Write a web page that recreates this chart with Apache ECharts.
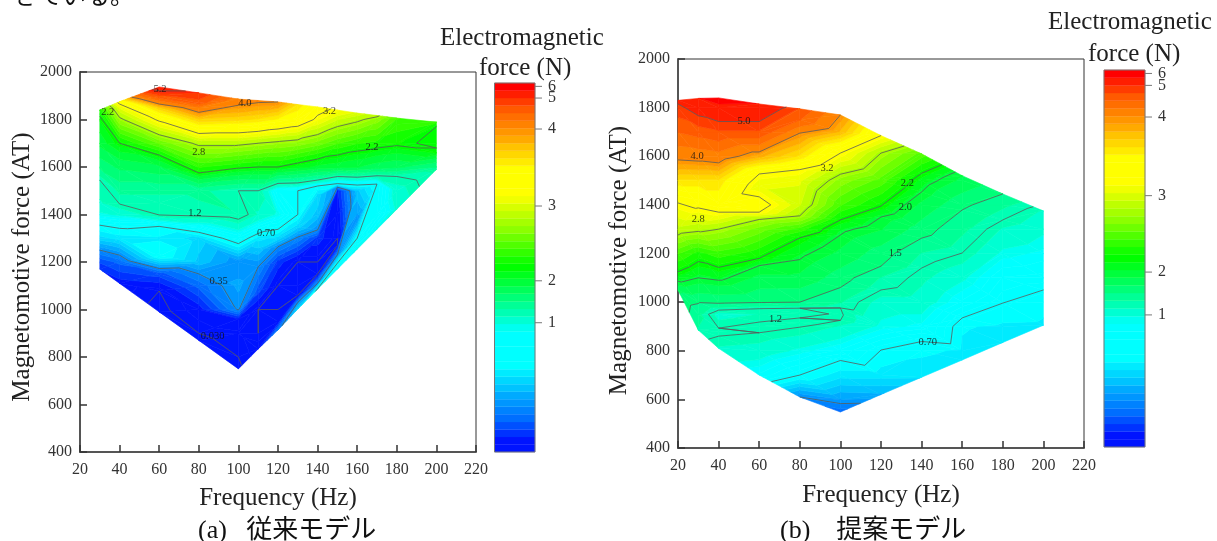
<!DOCTYPE html>
<html><head><meta charset="utf-8">
<style>html,body{margin:0;padding:0;background:#fff}#c{width:1217px;height:541px}</style>
<script src="https://cdn.jsdelivr.net/npm/echarts@6/dist/echarts.min.js"></script>
</head><body><div id="c"></div>
<script>
// Force value at each colour-bar band edge (bottom to top)
const barLevels=[0,.0575,.115,.1725,.23,.2875,.345,.4025,.46,.5175,.575,.6325,.69,.7475,.805,.8625,.92,.977,1.115,1.31,1.5,1.7,1.89,2.04,2.14,2.24,2.34,2.44,2.54,2.64,2.74,2.84,2.94,3.03,3.13,3.23,3.33,3.43,3.52,3.62,3.72,3.82,3.92,4.01,4.25,4.49,4.74,5.0,5.63,6.3];
const barColors=['#0014ff','#0014ff','#0032ff','#0050ff','#006eff','#0082ff','#0096ff','#00aaff','#00c3ff','#00d7ff','#00ebff','#00ffff','#00ffff','#00ffff','#00ffff','#00ffff','#00fff0','#00ffd2','#00ffb4','#00ff96','#00ff78','#00ff5a','#00ff3c','#00ff1e','#00ff00','#14ff00','#32ff00','#50ff00','#6eff00','#8cff00','#a5ff00','#beff00','#d7ff00','#f0ff00','#ffff00','#ffff00','#ffff00','#ffff00','#ffeb00','#ffd700','#ffc300','#ffaa00','#ff9600','#ff8200','#ff6e00','#ff5a00','#ff3c00','#ff1e00','#ff0000'];
const barTicks=[5,1,2,3,4,6];

const freqA=[30,40,60,80,100,110,120,130,140,150,160,170,180,200];
const mmfA=[
[1170,1200,1250,1300,1355,1400,1450,1545,1600,1700,1800,1840],
[1110,1200,1300,1350,1400,1444,1500,1600,1700,1800,1850,1875],
[990,1078,1150,1225,1300,1350,1398,1450,1500,1600,1700,1800,1850,1900,1937],
[870,900,1000,1100,1150,1200,1300,1350,1400,1500,1575,1600,1700,1800,1850,1869,1912],
[750,800,900,960,1000,1100,1200,1300,1400,1500,1600,1700,1800,1860,1886],
[834,900,1000,1080,1180,1250,1300,1400,1500,1600,1700,1800,1880],
[914,950,1000,1100,1200,1264,1300,1400,1500,1600,1700,1800,1874],
[1002,1030,1060,1100,1200,1305,1350,1400,1500,1533,1600,1700,1800,1863],
[1086,1110,1150,1200,1300,1335,1400,1480,1520,1545,1600,1700,1800,1853],
[1170,1195,1230,1270,1300,1400,1500,1515,1530,1560,1600,1700,1800,1840],
[1254,1300,1377,1400,1500,1530,1560,1600,1700,1800,1827],
[1338,1400,1528,1560,1600,1700,1800,1817],
[1422,1500,1560,1600,1700,1780,1806],
[1590,1600,1660,1680,1700,1770,1789]];
const forceA=[
[.12,.18,.35,.55,.7,.95,1.1,1.2,1.55,1.95,2.15,2.3],
[.08,.25,.6,.72,1.0,1.2,1.35,1.75,2.2,2.75,3.05,3.3],
[.01,.03,.2,.7,.62,.7,1.2,1.22,1.35,1.85,2.55,3.25,3.7,4.7,5.6],
[.02,.03,.08,.25,.35,.5,.55,.85,1.25,1.35,2.2,2.35,2.85,3.7,4.2,4.6,5.0],
[.02,.03,.05,.1,.36,.42,.36,.8,1.3,1.2,2.25,2.85,3.65,4.0,4.1],
[.08,.03,.03,.2,.35,.5,.6,1.1,1.2,2.2,2.8,3.6,4.05],
[.3,.05,.03,.03,.15,.35,.55,.95,.75,2.2,2.75,3.5,4.0],
[.55,.35,.03,.03,.03,.35,.55,.7,.7,1.2,2.1,2.7,3.4,3.6],
[.72,.35,.03,.03,.15,.35,.5,.55,.7,1.2,2.0,2.6,3.15,3.3],
[.8,.7,.35,.03,.03,.05,.1,.35,.7,1.2,1.95,2.45,2.95,3.15],
[.95,.7,.36,.4,.5,.75,1.25,1.9,2.35,2.85,3.0],
[.95,.75,.7,1.15,1.8,2.3,2.7,2.85],
[1.0,1.05,1.2,1.75,2.25,2.4,2.45],
[1.35,1.5,2.15,2.2,2.15,2.2,2.35]];
const contourA=[.03,.35,.7,1.2,2.2,2.8,3.2,4.0,5.2];
const labelA=[[60.4,1928,'5.2'],[103.3,1869,'4.0'],[146,1836,'3.2'],[34,1832,'2.2'],[80,1663,'2.8'],[167.5,1684,'2.2'],[78,1406,'1.2'],[114,1322,'0.70'],[90,1120,'0.35'],[87,889,'0.030']];

const freqB=[20,30,40,60,80,100,120,140,160,180,200];
const mmfB=[
[1050,1100,1125,1200,1276,1300,1408,1500,1585,1700,1800,1830],
[885,950,1000,1100,1200,1300,1400,1500,1600,1700,1800,1838],
[810,860,878,893,950,967,1000,1100,1200,1300,1370,1400,1500,1600,1700,1800,1840],
[700,800,874,900,918,950,973,1000,1100,1150,1180,1300,1340,1370,1400,1433,1480,1527,1600,1700,1800,1815],
[610,700,800,897,915,935,955,975,1000,1100,1175,1200,1264,1300,1355,1400,1500,1545,1600,1695,1750,1795],
[548,600,700,760,800,900,925,950,976,1000,1060,1100,1200,1276,1300,1338,1400,1500,1526,1613,1700,1770],
[620,700,803,900,1000,1050,1100,1148,1200,1300,1350,1395,1500,1613,1685],
[691,800,838,900,1000,1100,1140,1200,1263,1300,1400,1453,1500,1530,1610],
[762,800,900,935,1000,1100,1202,1300,1379,1400,1500,1520],
[834,900,996,1100,1200,1300,1338,1400,1445],
[905,1000,1050,1100,1200,1300,1375]];
const forceB=[
[1.75,2.1,2.2,2.45,2.8,2.9,3.2,3.6,4.0,4.5,4.9,5.1],
[1.3,1.35,1.52,2.0,2.3,2.85,3.25,3.6,4.1,4.6,5.2,5.6],
[1.1,1.2,1.28,1.2,1.05,1.2,1.55,2.05,2.4,2.8,3.2,3.4,3.6,4.15,4.7,5.4,6.0],
[.85,1.05,1.2,1.28,1.2,1.12,1.2,1.52,1.85,2.0,2.2,2.6,2.8,3.2,3.3,3.2,3.05,3.2,3.85,4.7,5.4,5.6],
[.35,.7,.95,1.2,1.28,1.2,1.15,1.2,1.5,1.85,2.0,2.05,2.2,2.4,2.8,2.95,3.05,3.2,3.6,4.0,4.5,4.7],
[.25,.4,.6,.7,.85,1.1,1.2,1.22,1.2,1.32,1.5,1.6,1.85,2.0,2.05,2.2,2.45,2.7,2.8,3.2,3.8,4.0],
[.45,.6,.7,.95,1.05,1.2,1.3,1.5,1.6,1.9,2.0,2.2,2.5,2.8,3.2],
[.58,.65,.7,.9,1.05,1.15,1.2,1.3,1.5,1.6,1.85,2.0,2.1,2.2,2.5],
[.6,.62,.64,.7,.85,1.0,1.2,1.35,1.5,1.55,1.85,1.9],
[.6,.62,.7,.8,.95,1.1,1.2,1.35,1.5],
[.62,.66,.7,.78,.9,1.0,1.1]];
const contourB=[.35,.7,1.2,1.5,2.0,2.2,2.8,3.2,4.0,5.0];
const labelB=[[52.5,1745,'5.0'],[29.4,1601,'4.0'],[93.4,1552,'3.2'],[133,1490,'2.2'],[132,1391,'2.0'],[127,1202,'1.5'],[30,1342,'2.8'],[68,930,'1.2'],[143,836,'0.70']];

const serif='"Liberation Serif","Noto Sans CJK JP",serif';

// Join neighbouring frequency columns into triangles.
// followForce: new edges follow equal force (diagonal features); otherwise they follow equal MMF.
function triangles(freq,mmf,force,followForce){
  const out=[];
  for(let c=0;c<freq.length-1;c++){
    let i=0,j=0;const a=mmf[c],b=mmf[c+1],fa=force[c],fb=force[c+1];
    const cost=(p,q)=>Math.abs(fa[p]-fb[q])+.0012*Math.abs(a[p]-b[q]);
    while(i<a.length-1||j<b.length-1){
      const adv=j>=b.length-1||(i<a.length-1&&(followForce?cost(i+1,j)<=cost(i,j+1):a[i+1]<=b[j+1]));
      if(adv){out.push([freq[c],a[i],fa[i],freq[c],a[i+1],fa[i+1],freq[c+1],b[j],fb[j]]);i++;}
      else{out.push([freq[c],a[i],fa[i],freq[c+1],b[j],fb[j],freq[c+1],b[j+1],fb[j+1]]);j++;}
    }
  }
  return out;
}
function clipV(poly,lim,keepAbove){
  const r=[];
  for(let k=0;k<poly.length;k++){
    const p=poly[k],q=poly[(k+1)%poly.length];
    const pin=keepAbove?p[2]>=lim:p[2]<=lim,qin=keepAbove?q[2]>=lim:q[2]<=lim;
    if(pin)r.push(p);
    if(pin!==qin){const t=(lim-p[2])/(q[2]-p[2]);r.push([p[0]+t*(q[0]-p[0]),p[1]+t*(q[1]-p[1]),lim]);}
  }
  return r;
}
function fillItem(params,api){
  const v=[0,3,6].map(k=>[api.value(k),api.value(k+1),api.value(k+2)]);
  const lo=Math.min(v[0][2],v[1][2],v[2][2]),hi=Math.max(v[0][2],v[1][2],v[2][2]);
  const children=[];
  for(let b=0;b<barColors.length;b++){
    if(barLevels[b+1]<lo||barLevels[b]>hi)continue;
    let p=clipV(v,barLevels[b],true);
    if(p.length>2)p=clipV(p,barLevels[b+1],false);
    if(p.length>2)children.push({type:'polygon',shape:{points:p.map(q=>api.coord([q[0],q[1]]))},style:{fill:barColors[b],stroke:barColors[b],lineWidth:.6}});
  }
  return {type:'group',children};
}
function lineItem(levels){
  return function(params,api){
    const v=[0,3,6].map(k=>[api.value(k),api.value(k+1),api.value(k+2)]);
    const children=[];
    levels.forEach(l0=>{
      const l=l0+1e-5,pts=[];
      for(let k=0;k<3;k++){
        const p=v[k],q=v[(k+1)%3];
        if((p[2]-l)*(q[2]-l)<0){const t=(l-p[2])/(q[2]-p[2]);pts.push(api.coord([p[0]+t*(q[0]-p[0]),p[1]+t*(q[1]-p[1])]));}
      }
      if(pts.length===2)children.push({type:'line',shape:{x1:pts[0][0],y1:pts[0][1],x2:pts[1][0],y2:pts[1][1]},style:{stroke:'#5a5a5a',lineWidth:.8}});
    });
    return {type:'group',children};
  };
}
function barPos(val){
  for(let i=0;i<barLevels.length-1;i++)
    if(val>=barLevels[i]&&val<=barLevels[i+1])return i+(val-barLevels[i])/(barLevels[i+1]-barLevels[i]);
  return 0;
}
const tickPos=barTicks.map(barPos);

const grids=[
 {left:80,top:72,width:396,height:380,show:true,borderColor:'#333',borderWidth:1},
 {left:678,top:59,width:406,height:389,show:true,borderColor:'#333',borderWidth:1},
 {left:494.5,top:83,width:40.5,height:369},
 {left:1104,top:70,width:41,height:377}
];
function mainX(g,gap){return {gridIndex:g,type:'value',min:20,max:220,interval:20,name:'Frequency (Hz)',nameLocation:'middle',nameGap:gap,
  nameTextStyle:{fontFamily:serif,fontSize:25,color:'#222'},axisLine:{lineStyle:{color:'#555',width:2}},axisTick:{inside:true,length:7,lineStyle:{color:'#333',width:1.5}},
  axisLabel:{fontFamily:serif,fontSize:16,color:'#333',margin:10,hideOverlap:false,showMinLabel:true,showMaxLabel:true},splitLine:{show:false}};}
function mainY(g,gap,pad){return {gridIndex:g,type:'value',min:400,max:2000,interval:200,name:'Magnetomotive force (AT)',nameLocation:'middle',nameGap:gap,
  nameTextStyle:{fontFamily:serif,fontSize:25,color:'#222',padding:pad},axisLine:{lineStyle:{color:'#555',width:2}},axisTick:{inside:true,length:7,lineStyle:{color:'#333',width:1.5}},
  axisLabel:{fontFamily:serif,fontSize:16,color:'#333',margin:8,hideOverlap:false,showMinLabel:true,showMaxLabel:true,formatter:v=>String(v)},splitLine:{show:false}};}
function barX(g){return {gridIndex:g,type:'value',min:0,max:1,show:false};}
function barY(g){return {gridIndex:g,type:'value',min:0,max:barColors.length,position:'right',
  axisLine:{show:false},splitLine:{show:false},
  axisTick:{show:false},
  axisLabel:{show:true,fontFamily:serif,fontSize:16,color:'#333',margin:13,customValues:tickPos,hideOverlap:false,showMinLabel:true,showMaxLabel:true,
    formatter:v=>{let b=0,d=1e9;tickPos.forEach((p,i)=>{if(Math.abs(p-v)<d){d=Math.abs(p-v);b=i;}});return String(barTicks[b]);}}};}

function contourSeries(freq,mmf,force,levels,labels,ax,followForce){
  const tri=triangles(freq,mmf,force,followForce);
  return [
   {type:'custom',xAxisIndex:ax,yAxisIndex:ax,coordinateSystem:'cartesian2d',data:tri,renderItem:fillItem,encode:{x:0,y:1},silent:true,z:2,clip:false},
   {type:'custom',xAxisIndex:ax,yAxisIndex:ax,coordinateSystem:'cartesian2d',data:tri,renderItem:lineItem(levels),encode:{x:0,y:1},silent:true,z:3,clip:false},
   {type:'scatter',xAxisIndex:ax,yAxisIndex:ax,data:labels,symbolSize:0,silent:true,z:4,
    label:{show:true,position:'inside',formatter:p=>p.value[2],fontFamily:serif,fontSize:10.5,color:'#111'}}
  ];
}
function barSeries(ax){
  return [
   {type:'custom',xAxisIndex:ax,yAxisIndex:ax,coordinateSystem:'cartesian2d',data:barColors.map((c,i)=>[0,i,1,i+1]),encode:{x:[0,2],y:[1,3]},silent:true,z:2,
    renderItem:(p,api)=>{const a=api.coord([api.value(0),api.value(1)]),b=api.coord([api.value(2),api.value(3)]);
      return {type:'rect',shape:{x:a[0],y:b[1],width:b[0]-a[0],height:a[1]-b[1]},style:{fill:barColors[p.dataIndex],stroke:barColors[p.dataIndex],lineWidth:.3}};}},
   {type:'custom',xAxisIndex:ax,yAxisIndex:ax,coordinateSystem:'cartesian2d',data:[[0,0,1,barColors.length]],encode:{x:[0,2],y:[1,3]},silent:true,z:3,clip:false,
    renderItem:(p,api)=>{const a=api.coord([api.value(0),api.value(1)]),b=api.coord([api.value(2),api.value(3)]);
      const ticks=tickPos.map(t=>{const q=api.coord([1,t]);return {type:'line',shape:{x1:q[0],y1:q[1],x2:q[0]+7,y2:q[1]},style:{stroke:'#777',lineWidth:1}};});
      return {type:'group',children:[{type:'rect',shape:{x:a[0],y:b[1],width:b[0]-a[0],height:a[1]-b[1]},style:{fill:'none',stroke:'#777',lineWidth:1}},...ticks]};}}
  ];
}
function txt(text,left,top,size,color){return {text,left,top,textStyle:{fontFamily:serif,fontSize:size,fontWeight:'normal',color:color||'#222'}};}

const chart=echarts.init(document.getElementById('c'),null,{renderer:'canvas'});
chart.setOption({
  animation:false,backgroundColor:'#fff',
  title:[
    txt('Electromagnetic',435,21,25),txt('force (N)',474,51,25),
    txt('Electromagnetic',1043,5,25),txt('force (N)',1083,37,25),
    txt('(a)   従来モデル',193,513,26,'#111'),txt('(b)    提案モデル',775,513,26,'#111'),
    txt('きている。',9,-19,24,'#111')
  ],
  grid:grids,
  xAxis:[mainX(0,34),mainX(1,35),barX(2),barX(3)],
  yAxis:[mainY(0,45,[0,10,0,0]),mainY(1,46,[0,14,0,0]),barY(2),barY(3)],
  series:[
    ...contourSeries(freqA,mmfA,forceA,contourA,labelA,0,true),
    ...contourSeries(freqB,mmfB,forceB,contourB,labelB,1,false),
    ...barSeries(2),...barSeries(3)
  ]
});
</script></body></html>
